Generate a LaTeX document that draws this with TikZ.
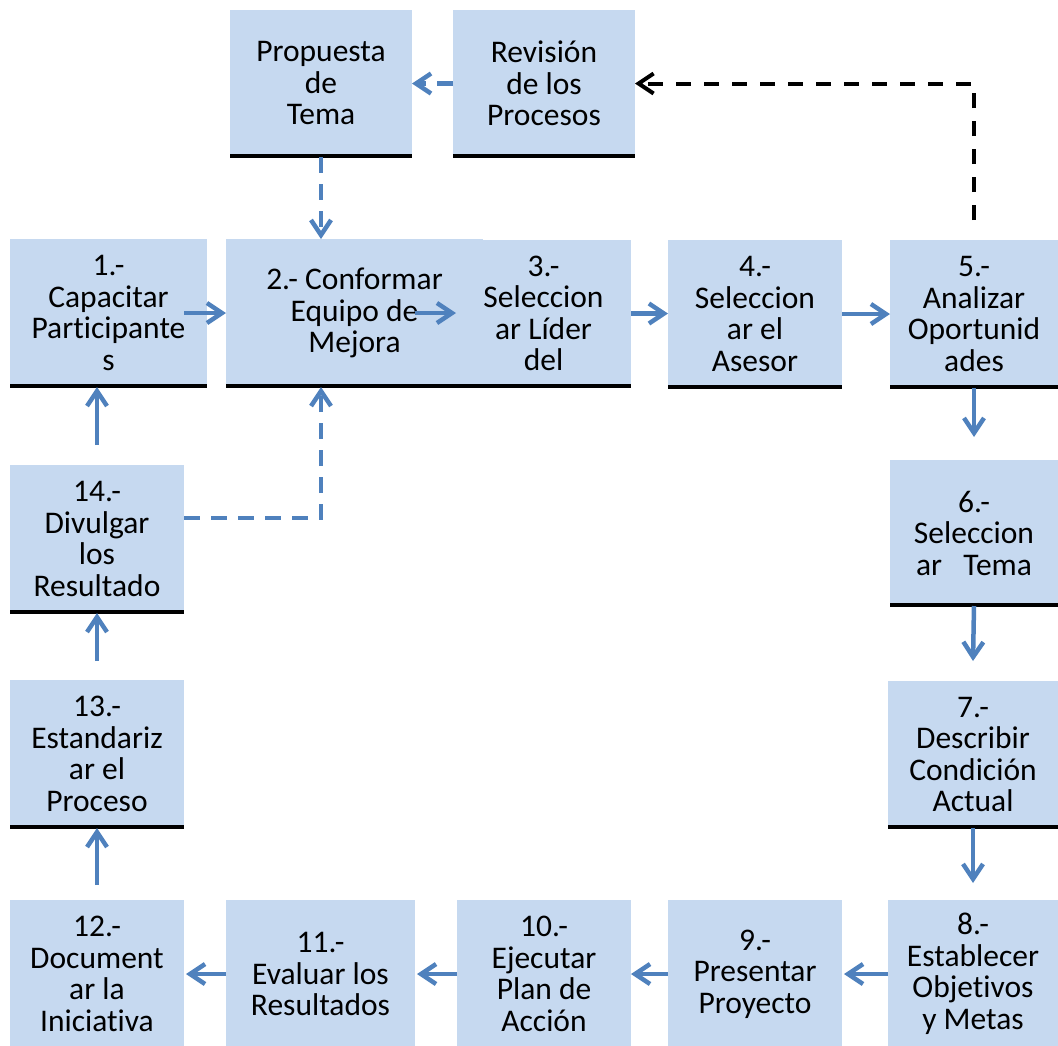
\documentclass[tikz,border=0pt]{standalone}
\usepackage{fontspec}
\setmainfont{Carlito}[Ligatures=NoCommon]
\usetikzlibrary{arrows.meta}

\definecolor{boxfill}{HTML}{C6D9F0}
\definecolor{flowblue}{HTML}{4F81BD}

\tikzset{
  plainbox/.style={
    fill=boxfill, inner sep=0pt, outer sep=0pt, align=center,
    font=\fontsize{31.5}{31.5}\selectfont
  },
  stepbox/.style={
    plainbox,
    path picture={\draw[line width=6pt]
      (path picture bounding box.south west) -- (path picture bounding box.south east);}
  },
  tipbarb/.style={-{Straight Barb[length=15pt,width=20pt]}},
  flow/.style={draw=flowblue, line width=4.5pt, tipbarb},
  flowdash/.style={flow, dash pattern=on 16pt off 11pt},
  backdash/.style={draw=black, line width=4pt, tipbarb, dash pattern=on 15pt off 13pt}
}

\begin{document}
\begin{tikzpicture}[x=1pt,y=-1pt]
\useasboundingbox (0,0) rectangle (1058,1045);

% upper pair of boxes
\node[stepbox, minimum width=182, minimum height=147] (pt) at (321,83.5) {Propuesta\\de\\Tema};
\node[stepbox, minimum width=182, minimum height=147] (rv) at (544,83.5) {Revisión\\de los\\Procesos};

% top row
\node[stepbox, minimum width=197, minimum height=148] (b1) at (108.5,313) {1.-\\Capacitar\\Participante\\s};
\node[stepbox, minimum width=257, minimum height=148] (b2) at (354.5,313) {2.- Conformar\\Equipo de\\Mejora};
\node[stepbox, minimum width=175, minimum height=147] (b3) at (543.5,313.5) {3.-\\Seleccion\\ar Líder\\del};
\node[stepbox, minimum width=174, minimum height=148] (b4) at (755,314) {4.-\\Seleccion\\ar el\\Asesor};
\node[stepbox, minimum width=168, minimum height=148] (b5) at (974,314) {5.-\\Analizar\\Oportunid\\ades};

% right column
\node[stepbox, minimum width=168, minimum height=146] (b6) at (974,533) {6.-\\Seleccion\\ar~~~Tema};
\node[stepbox, minimum width=170, minimum height=147] (b7) at (973,754.5) {7.-\\Describir\\Condición\\Actual};

% bottom row (runs off the lower edge)
\node[plainbox, minimum width=170, minimum height=148] (b8) at (973,974) {8.-\\Establecer\\Objetivos\\y Metas};
\node[plainbox, minimum width=174, minimum height=148] (b9) at (755,974) {9.-\\Presentar\\Proyecto};
\node[plainbox, minimum width=174, minimum height=148] (b10) at (544,974) {10.-\\Ejecutar\\Plan de\\Acción};
\node[plainbox, minimum width=189, minimum height=148] (b11) at (320.5,974) {11.-\\Evaluar los\\Resultados};
\node[plainbox, minimum width=174, minimum height=148] (b12) at (97,974) {12.-\\Document\\ar la\\Iniciativa};

% left column
\node[stepbox, minimum width=174, minimum height=148] (b13) at (97,754) {13.-\\Estandariz\\ar el\\Proceso};
\node[stepbox, minimum width=174, minimum height=148] (b14) at (97,539) {14.-\\Divulgar\\los\\Resultado};

% main sequence
\draw[flow] ([xshift=-23pt]b1.east) -- (b2.west);
\draw[flow] ([xshift=-68pt]b2.east) -- (b2.east -| b3.west);
\draw[flow] (b3.east) -- (b3.east -| b4.west);
\draw[flow] (b4.east) -- (b5.west);
\draw[flow] (b5.south) -- ([yshift=23pt]b6.north);
\draw[flow] (b6.south) -- ([yshift=20pt]b7.north);
\draw[flow] (b7.south) -- ([yshift=17pt]b8.north);
\draw[flow] (b8.west) -- ([xshift=2pt]b9.east);
\draw[flow] (b9.west) -- (b10.east);
\draw[flow] (b10.west) -- ([xshift=2pt]b11.east);
\draw[flow] (b11.west) -- ([xshift=2pt]b12.east);
\draw[flow] ([yshift=15pt]b12.north) -- (b13.south);
\draw[flow] ([yshift=19pt]b13.north) -- (b14.south);
\draw[flow] ([yshift=20pt]b14.north) -- (b14.north |- b1.south);

% feedback paths
\draw[flowdash] (rv.west) -- (pt.east);
\draw[flowdash] (pt.south) -- (pt.south |- b2.north);
\draw[flowdash] ([yshift=21pt]b14.east) -| (pt.south |- b2.south);
\draw[backdash] ([yshift=20pt]b5.north) |- (rv.east);
\end{tikzpicture}
\end{document}
